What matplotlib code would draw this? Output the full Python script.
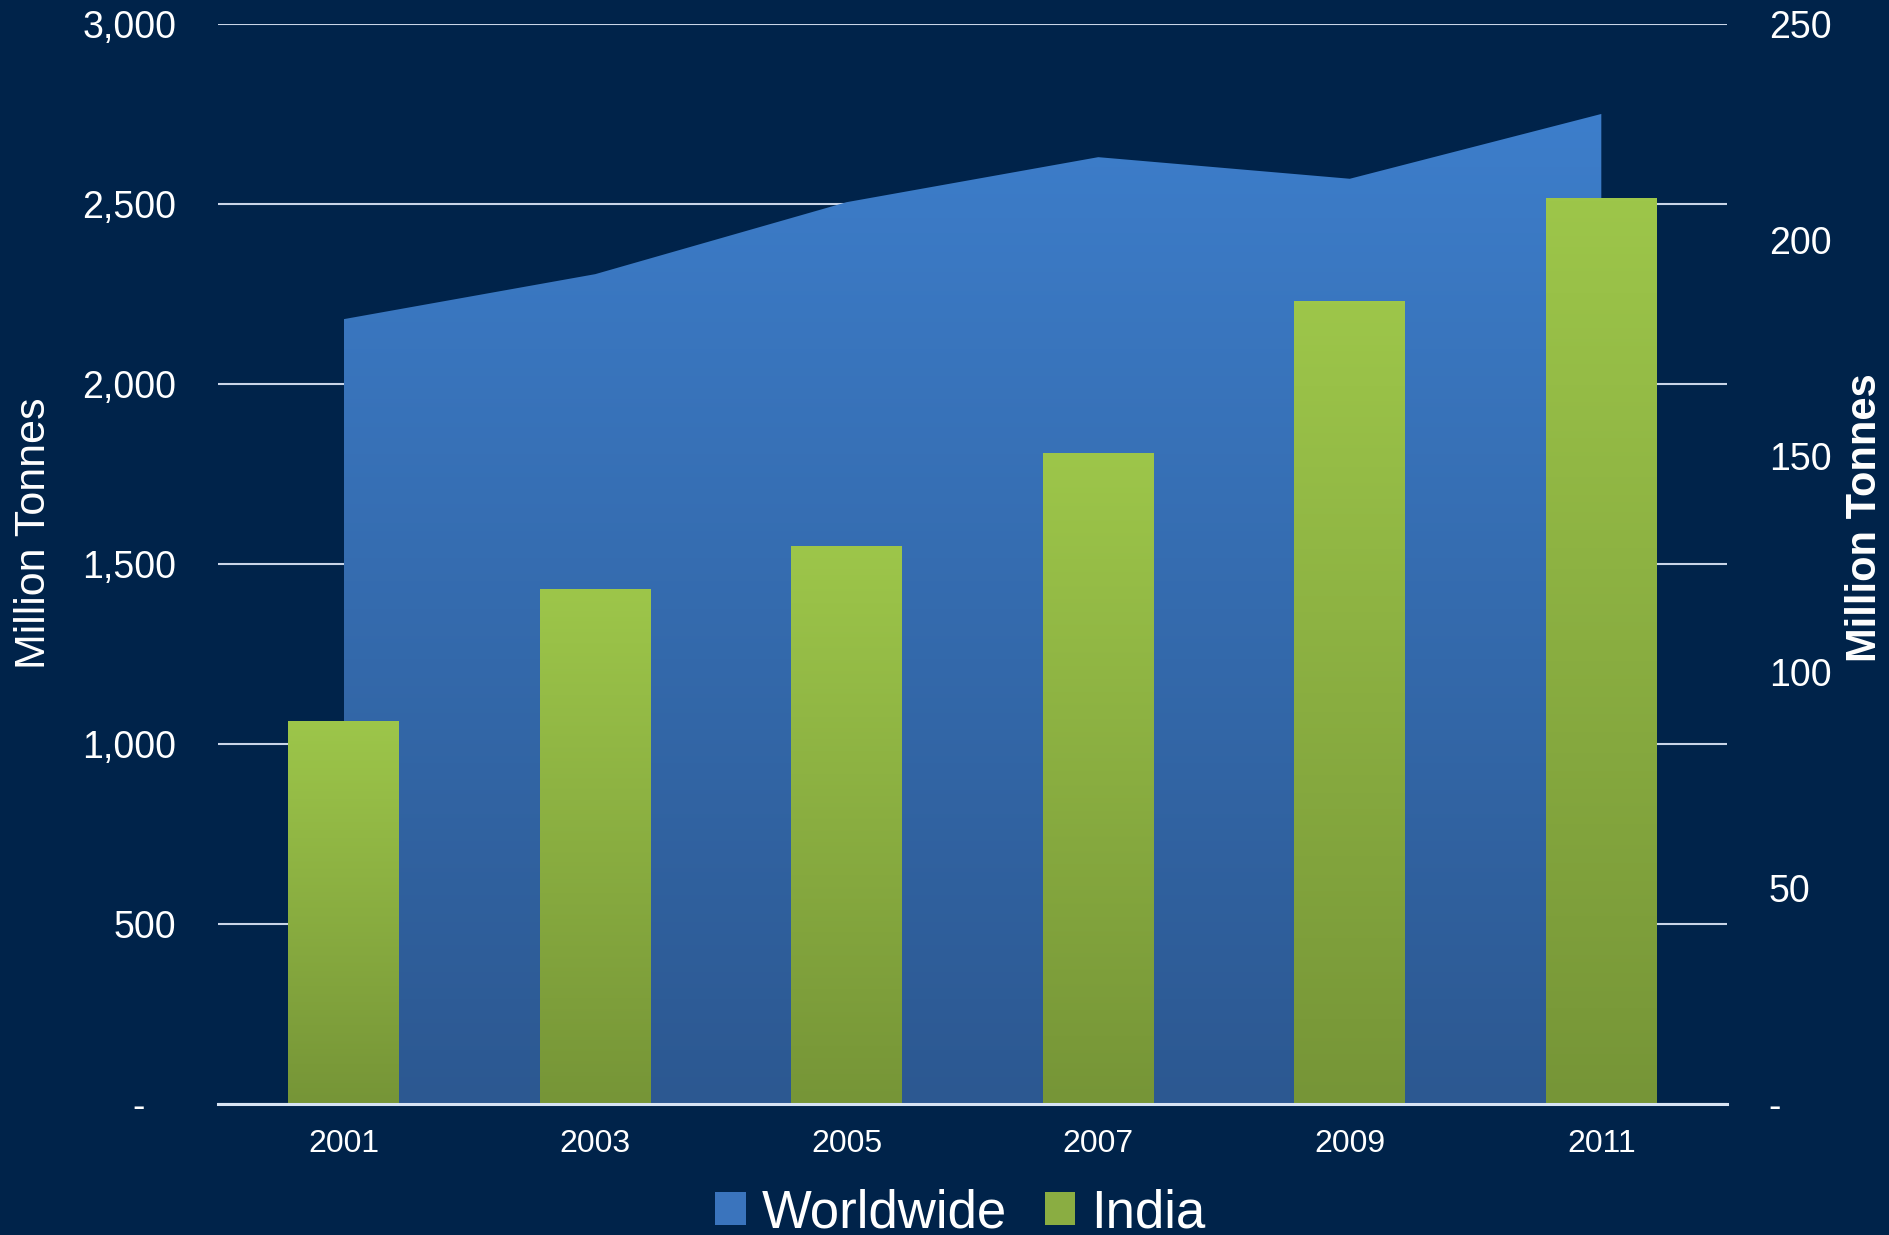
import numpy as np
import matplotlib
matplotlib.use('Agg')
import matplotlib.pyplot as plt
from matplotlib.patches import Patch
from matplotlib.colors import LinearSegmentedColormap
from matplotlib.ticker import FuncFormatter

# data
years = ['2001', '2003', '2005', '2007', '2009', '2011']
worldwide = [2180, 2305, 2505, 2630, 2570, 2750]   # left axis, million tonnes
india = [88.7, 119.1, 129.2, 150.7, 185.8, 209.8]  # right axis, million tonnes

left_ticks = [0, 500, 1000, 1500, 2000, 2500, 3000]
right_ticks = [0, 50, 100, 150, 200, 250]

bg = '#00234a'
grid_col = '#c9d5e8'
font = 'Liberation Sans'
narrow = ['Liberation Sans Narrow', 'Liberation Sans']

plt.rcParams['font.family'] = font

# gradients (top -> bottom)
blue_cm = LinearSegmentedColormap.from_list('blue', ['#2c5891', '#3d7ecb'])
green_cm = LinearSegmentedColormap.from_list('green', ['#769537', '#9dc64a'])
grad = np.linspace(0, 1, 256).reshape(-1, 1)

fig = plt.figure(figsize=(18.9, 12.35), dpi=100, facecolor=bg)
ax = fig.add_axes([0.1153, 0.1061, 0.7985, 0.8745])
ax.set_facecolor(bg)
ax2 = ax.twinx()

x = np.arange(len(years))

# worldwide area with vertical gradient
area = ax.fill_between(x, 0, worldwide, facecolor='none', edgecolor='none', zorder=2)
img = ax.imshow(grad, cmap=blue_cm, origin='lower', aspect='auto',
                extent=[x[0], x[-1], 0, max(worldwide)], zorder=2)
img.set_clip_path(area.get_paths()[0], transform=ax.transData)

ax.set_xlim(-0.5, len(years) - 0.5)
ax.set_ylim(0, 3000)
ax.set_yticks(left_ticks)
# accounting style: zero shown as a dash, padded like the spreadsheet does
ax.yaxis.set_major_formatter(FuncFormatter(lambda v, p: '-   ' if v == 0 else f'{int(v):,}'))
ax.grid(axis='y', color=grid_col, linewidth=1.5, zorder=0)
ax.set_axisbelow(True)
ax.set_xticks(x)
ax.set_xticklabels(years)

# india bars, each with its own gradient
bars = ax2.bar(x, india, width=0.44, color='none', edgecolor='none', zorder=3)
for b in bars:
    im = ax2.imshow(grad, cmap=green_cm, origin='lower', aspect='auto',
                    extent=[b.get_x(), b.get_x() + b.get_width(), 0, b.get_height()], zorder=3)
    im.set_clip_path(b)
ax2.set_xlim(-0.5, len(years) - 0.5)
ax2.set_ylim(0, 250)
ax2.set_yticks(right_ticks)
ax2.yaxis.set_major_formatter(FuncFormatter(lambda v, p: '-' if v == 0 else f'{int(v)}'))

for a in (ax, ax2):
    for s in ('top', 'left', 'right', 'bottom'):
        a.spines[s].set_visible(False)
ax2.axhline(0, color='#d8e4f4', linewidth=2.2, zorder=5, clip_on=False)

ax.tick_params(axis='y', length=0, pad=30, labelsize=27, labelcolor='white')
ax2.tick_params(axis='y', length=0, pad=30, labelsize=27, labelcolor='white')
ax.tick_params(axis='x', length=0, pad=18, labelcolor='white')
for t in ax.get_xticklabels():
    t.set_family(narrow)
    t.set_fontsize(23)

# axis titles
fig.text(0.018, 0.5684, 'Million Tonnes', color='white', fontsize=31,
         rotation=90, ha='center', va='center')
fig.text(0.987, 0.5806, 'Million Tonnes', color='white', fontsize=30, fontweight='bold',
         rotation=90, ha='center', va='center')

handles = [Patch(facecolor='#3a74bd', edgecolor='none', label='Worldwide'),
           Patch(facecolor='#8aad42', edgecolor='none', label='India')]
fig.legend(handles=handles, loc='lower center', bbox_to_anchor=(0.508, -0.041), ncol=2,
           frameon=False, fontsize=38, labelcolor='white', handlelength=0.58,
           handleheight=0.58, handletextpad=0.3, columnspacing=0.72)

fig.savefig('out.png', dpi=100, facecolor=bg)
